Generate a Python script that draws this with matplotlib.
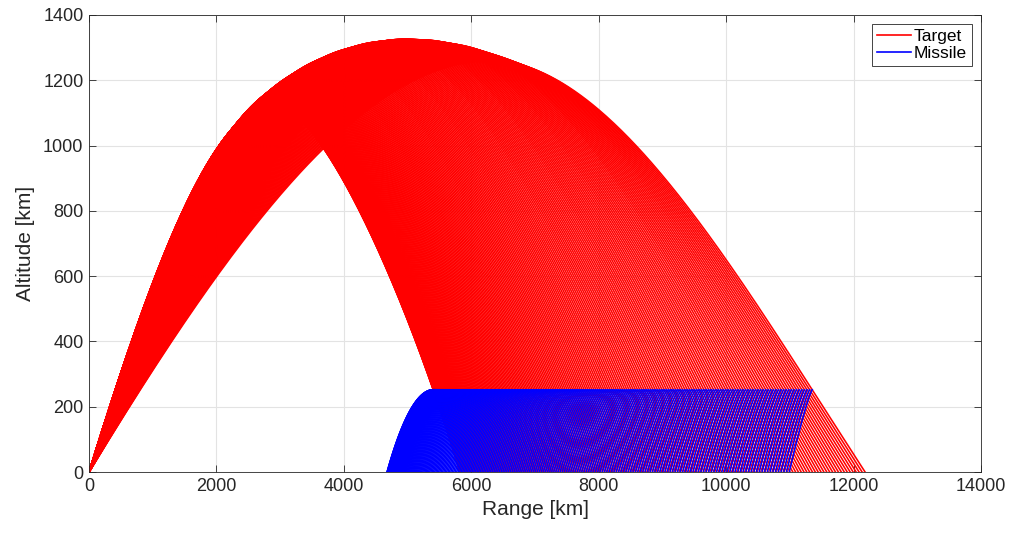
"""
Target / interceptor trajectory family, altitude vs range.
"""

import numpy as np
import matplotlib.pyplot as plt
from matplotlib.lines import Line2D

plt.rcParams["font.family"] = ["Liberation Sans", "DejaVu Sans"]

# ---- data --------------------------------------------------------------
n_shots = 230

# target trajectory parameters along the family, keyed by the position of
# the impact point in the range span (0 = shortest shot, 1 = longest shot)
key_pos = [0.0, 0.1, 0.2, 0.3, 0.4, 0.5, 0.6, 0.7, 0.8, 0.9, 1.0]
tgt_range = [5820, 6456, 7092, 7728, 8364, 9000, 9636, 10272, 10908, 11544, 12180]
tgt_apex_x = [2900, 3240, 3580, 3920, 4260, 4600, 4940, 5280, 5620, 5960, 6300]
tgt_apex_h = [1125, 1190, 1236, 1273, 1300, 1318, 1326, 1323, 1311, 1288, 1260]
tgt_climb = [0.63, 0.60, 0.57, 0.54, 0.51, 0.475, 0.44, 0.41, 0.38, 0.35, 0.32]
tgt_dive = [-0.65, -0.615, -0.58, -0.545, -0.51, -0.475, -0.44, -0.405, -0.37, -0.335, -0.30]
tgt_turn = [0.25, 0.258, 0.267, 0.275, 0.283, 0.292, 0.30, 0.308, 0.317, 0.325, 0.333]
tgt_tail = [0.30, 0.303, 0.307, 0.31, 0.313, 0.317, 0.32, 0.323, 0.327, 0.33, 0.333]

# interceptors: all kill at the same altitude on the target's descent
kill_alt = 252                                                   # km
msl_reach = [725, 690, 650, 610, 570, 530, 490, 455, 420, 390, 360]  # km
msl_bend = [2.0, 1.9, 1.8, 1.7, 1.6, 1.5, 1.45, 1.4, 1.3, 1.25, 1.2]


def bezier(p0, p1, p2, p3, n=250):
    t = np.linspace(0, 1, n)[:, None]
    p = ((1 - t) ** 3 * np.array(p0) + 3 * (1 - t) ** 2 * t * np.array(p1)
         + 3 * (1 - t) * t ** 2 * np.array(p2) + t ** 3 * np.array(p3))
    return p[:, 0], p[:, 1]


def pick(arr, s):
    return np.interp(s, key_pos, arr)


fig = plt.figure(figsize=(10.13, 5.34), dpi=100)
ax = fig.add_axes([0.0879, 0.116, 0.8806, 0.856])

fam = np.linspace(0, 1, n_shots) ** 1.7
targets = []
missiles = []
for s in fam:
    R, xa, H = pick(tgt_range, s), pick(tgt_apex_x, s), pick(tgt_apex_h, s)
    m0, m1 = pick(tgt_climb, s), pick(tgt_dive, s)
    a, b = pick(tgt_turn, s), pick(tgt_tail, s)
    d = R - xa
    xu, yu = bezier((0, 0), (xa / 3, xa * m0 / 3), (2 * xa / 3, H), (xa, H))
    xd, yd = bezier((xa, H), (xa + a * d, H), (R - b * d, -b * d * m1), (R, 0))
    targets.append((np.r_[xu, xd[1:]], np.r_[yu, yd[1:]]))

    kill_x = np.interp(kill_alt, yd[::-1], xd[::-1])
    launch_x = kill_x - pick(msl_reach, s)
    xm = np.linspace(launch_x, kill_x, 120)
    um = (xm - launch_x) / (kill_x - launch_x)
    ym = kill_alt * (1 - (1 - um) ** pick(msl_bend, s))
    missiles.append((xm, ym))

for x, y in targets:
    ax.plot(x, y, color="#ff0000", lw=1.15)
for x, y in missiles:
    ax.plot(x, y, color="#0000ff", lw=1.15)

ax.set_xlim(0, 14000)
ax.set_ylim(0, 1400)
ax.set_xticks(np.arange(0, 14001, 2000))
ax.set_yticks(np.arange(0, 1401, 200))
ax.grid(True, color="#e3e3e3", lw=0.8)
ax.set_axisbelow(True)
ax.tick_params(direction="in", length=5, width=0.6, colors="#262626",
               labelsize=13, top=True, right=True, pad=4)
for sp in ax.spines.values():
    sp.set_color("#262626")
    sp.set_linewidth(0.6)

ax.set_xlabel("Range [km]", fontsize=15, color="#262626", labelpad=4)
ax.set_ylabel("Altitude [km]", fontsize=15, color="#262626", labelpad=6)

handles = [Line2D([], [], color="#ff0000", lw=1.2),
           Line2D([], [], color="#0000ff", lw=1.2)]
leg = ax.legend(handles, ["Target", "Missile"], loc="upper right",
                fontsize=12.5, fancybox=False, framealpha=1, edgecolor="#262626",
                handlelength=2.0, handletextpad=0.15, borderpad=0.3,
                labelspacing=0.1, borderaxespad=0.5)
leg.get_frame().set_linewidth(0.6)

fig.savefig("out.png", dpi=100)
